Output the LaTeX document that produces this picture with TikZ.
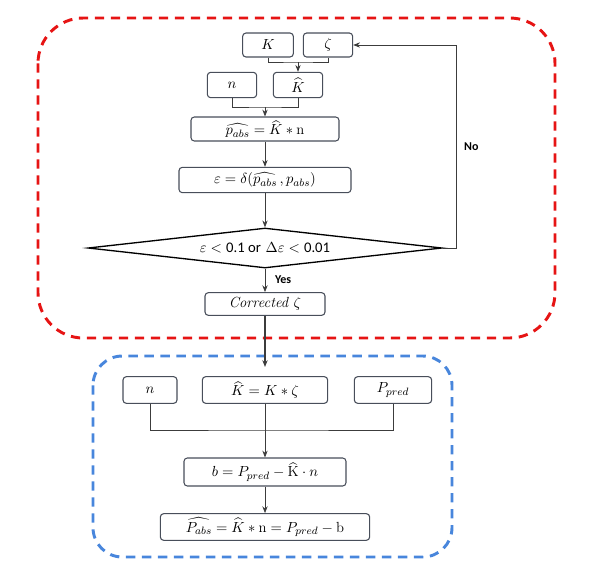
\documentclass[tikz,border=0pt]{standalone}
\usepackage{amsmath}
\usepackage{fontspec}
\setsansfont{Carlito}
\usetikzlibrary{arrows.meta,positioning,shapes.geometric}
\definecolor{loopred}{RGB}{230,20,20}
\definecolor{fitblue}{RGB}{72,134,220}
\definecolor{boxgrey}{RGB}{72,78,90}
\definecolor{wiregrey}{RGB}{60,60,60}

\begin{document}
\begin{tikzpicture}[x=0.75pt, y=-0.75pt,
      font=\fontsize{11}{13}\selectfont,
      box/.style={rectangle, rounded corners=2.5pt, draw=boxgrey, line width=0.8pt,
                  fill=white, inner sep=1pt, align=center},
      wire/.style={draw=wiregrey, line width=0.6pt},
      arr/.style={wire, -{Stealth[length=1.8mm, width=1.4mm]}},
      cond/.style={diamond, draw=black, line width=1pt, aspect=8.8, inner sep=0pt,
                   minimum width=265.5pt, minimum height=30pt},
      frame/.style={dashed, line width=2.2pt, dash pattern=on 7pt off 5pt},
      tag/.style={font=\sffamily\bfseries\small}]
    \useasboundingbox (0,0) rectangle (590,576);

    % outer loops
    \draw[frame, draw=loopred, rounded corners=34pt] (38,18) rectangle (555,338);
    \draw[frame, draw=fitblue, rounded corners=22pt] (93,356) rectangle (452,557);

    % calibration loop
    \node[box, minimum width=38pt, minimum height=18pt] (K) at (268,45) {$K$};
    \node[box, minimum width=37pt, minimum height=18pt] (z) at (328,45) {$\zeta$};
    \node[box, minimum width=37pt, minimum height=19pt] (n1) at (232,85) {$n$};
    \node[box, minimum width=37pt, minimum height=19pt] (Kh) at (298,85) {$\widehat{K}$};
    \node[box, minimum width=111pt, minimum height=18pt] (pabs) at (265,129) {$\widehat{p_{abs}} = \widehat{K} * \mathrm{n}$};
    \node[box, minimum width=129pt, minimum height=19pt] (eps) at (265,180) {$\varepsilon = \delta(\widehat{p_{abs}}\,, p_{abs})$};
    \node[cond] (chk) at (265,248) {$\varepsilon <{}$\textsf{0.1 or} $\Delta\varepsilon <{}$\textsf{0.01}};
    \node[box, minimum width=90pt, minimum height=17pt] (corr) at (265,304) {\textit{Corrected} $\zeta$};

    \coordinate (m1) at (298,62);
    \coordinate (m2) at (265,107);
    \draw[wire] (K.south) |- (m1) -| (z.south);
    \draw[arr] (m1) -- (Kh.north);
    \draw[wire] (n1.south) |- (m2) -| (Kh.south);
    \draw[arr] (m2) -- (pabs.north);
    \draw[arr] (pabs) -- (eps);
    \draw[arr] (eps) -- (chk.north);
    \draw[arr] (chk.east) -- ++(14,0) |- node[pos=0.25, right=2pt, tag] (no) {No} (z.east);
    \draw[arr] (chk.south) -- node[pos=0.45, right=4pt, tag] (yes) {Yes} (corr.north);

    % hand over to prediction
    \coordinate (into) at (265,367);
    \draw[arr, line width=1.1pt] (corr.south) -- (into);

    % prediction
    \node[box, minimum width=40.5pt, minimum height=20pt] (n2) at (150,390) {$n$};
    \node[box, minimum width=94pt, minimum height=20pt] (Kz) at (265,390) {$\widehat{K} = K * \zeta$};
    \node[box, minimum width=58pt, minimum height=20pt] (Pp) at (393,390) {$P_{pred}$};
    \node[box, minimum width=121.5pt, minimum height=21pt] (b) at (265,472) {$b = P_{pred} - \widehat{\mathrm{K}} \cdot n$};
    \node[box, minimum width=157pt, minimum height=20pt] (Pabs) at (265,527) {$\widehat{P_{abs}} = \widehat{K} * \mathrm{n} = P_{pred} - \mathrm{b}$};

    \coordinate (m3) at (265,430);
    \draw[wire] (n2.south) |- (m3) -| (Pp.south);
    \draw[arr] (Kz) -- (b);
    \draw[arr] (b) -- (Pabs);
\end{tikzpicture}
\end{document}
